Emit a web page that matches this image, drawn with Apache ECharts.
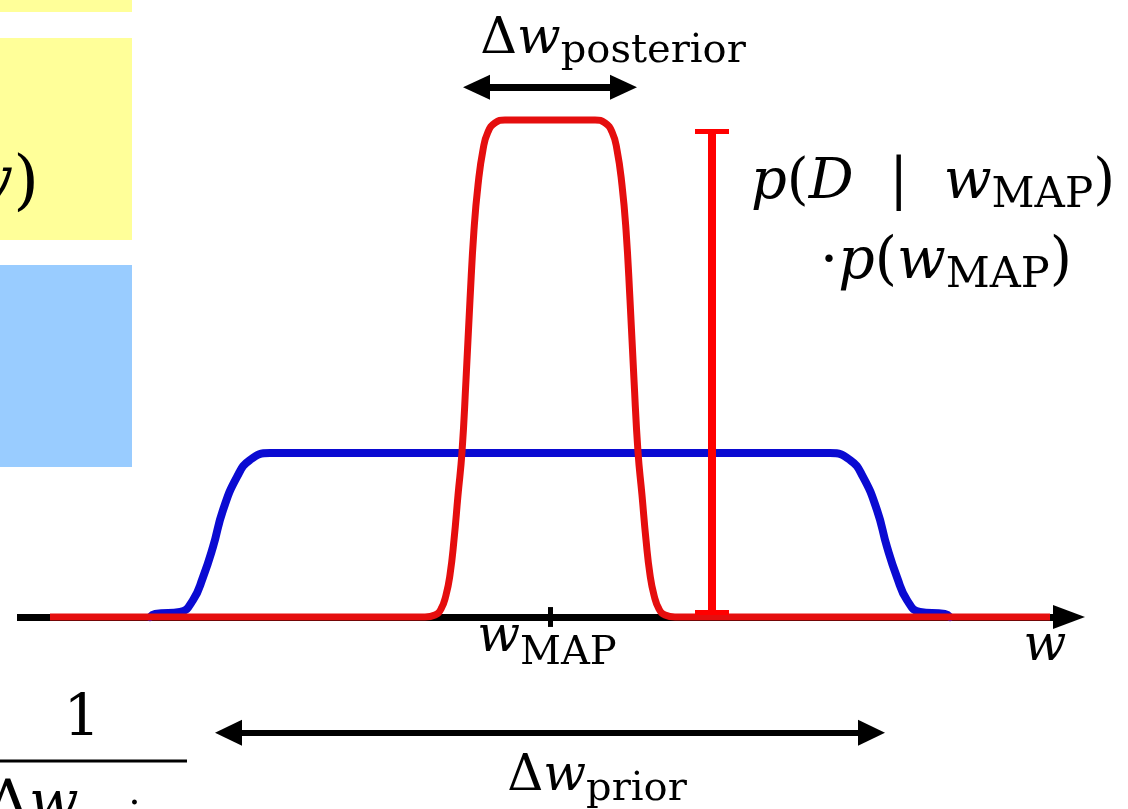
<!DOCTYPE html>
<html><head><meta charset="utf-8">
<script src="https://cdn.jsdelivr.net/npm/echarts@6/dist/echarts.min.js"></script>
<style>html,body{margin:0;padding:0;background:#fff}#c{width:1128px;height:809px}</style>
</head><body><div id="c"></div>
<script>
// ---- data (w in units of the w axis, p = density, posterior peak = 1) ----
const priorW = [-4.00,-3.95,-3.70,-3.57,-3.47,-3.37,-3.27,-3.13,-3.00,-2.80,2.80,3.00,3.13,3.27,3.37,3.47,3.57,3.70,3.95,4.00];
const priorP = [0,0.006,0.010,0.034,0.080,0.141,0.215,0.282,0.316,0.330,0.330,0.316,0.282,0.215,0.141,0.080,0.034,0.010,0.006,0];
const postW = [-5.00,-1.25,-1.15,-1.09,-1.04,-1.00,-0.96,-0.92,-0.88,-0.84,-0.80,-0.76,-0.72,-0.67,-0.62,-0.55,-0.45,0.45,0.55,0.62,0.67,0.72,0.76,0.80,0.84,0.88,0.92,0.96,1.00,1.04,1.09,1.15,1.25,5.00];
const postP = [0,0,0.004,0.016,0.044,0.085,0.155,0.245,0.332,0.477,0.638,0.779,0.869,0.940,0.976,0.994,1,1,0.994,0.976,0.940,0.869,0.779,0.638,0.477,0.332,0.245,0.155,0.085,0.044,0.016,0.004,0,0];
const axisRange = [-5.33, 5.35];
const wMAP = 0;
const posteriorSpan = [-0.87, 0.87];
const priorSpan = [-3.35, 3.35];
const errorBarW = 1.62;
const errorBarP = [0.010, 0.978];

// ---- rendering ----
const U = 0.01; // axis units per pixel (x)
const F = '"DejaVu Serif", "Liberation Serif", serif';
const cv = document.createElement('canvas').getContext('2d');
function fontStr(k, size) { return (k === 'i' ? 'italic ' : 'normal ') + 'normal ' + size + 'px ' + F; }
function baseOff(font) {
  cv.font = font;
  cv.textBaseline = 'alphabetic';
  const a1 = cv.measureText('H').actualBoundingBoxAscent;
  cv.textBaseline = 'middle';
  const a2 = cv.measureText('H').actualBoundingBoxAscent;
  cv.textBaseline = 'alphabetic';
  return a1 - a2;
}
// math-like label: parts = [[kind, text]], kind m = roman, i = italic, s = subscript
function label(x, base, align, parts, main, sub, drop) {
  const items = parts.map(([k, t]) => {
    const size = k === 's' ? sub : main;
    const font = fontStr(k, size);
    cv.font = font;
    return {k, t, font, w: cv.measureText(t).width};
  });
  const W = items.reduce((s, it) => s + it.w, 0);
  let cx = align === 'center' ? x - W / 2 : align === 'right' ? x - W : x;
  return items.map(it => {
    const b = it.k === 's' ? base + drop : base;
    const el = {type: 'text', x: cx, y: b - baseOff(it.font), z: 10,
      style: {text: it.t, font: it.font, fill: '#000', align: 'left', verticalAlign: 'middle'}};
    cx += it.w;
    return el;
  });
}
const ml = (pts, color, width, s0, s1, size) => {
  const a = {coord: pts[0], symbol: s0 || 'none', symbolSize: size || 10};
  const b = {coord: pts[1], symbol: s1 || 'none', symbolSize: size || 10};
  return [Object.assign(a, {lineStyle: {color: color, width: width, type: 'solid', cap: 'butt'}}), b];
};
const half = 13.5 * U;
const option = {
  animation: false,
  grid: {left: 0, right: 0, top: 0, bottom: 0},
  xAxis: {type: 'value', min: -5.5, max: 5.78, show: false},
  yAxis: {type: 'value', min: -0.3863, max: 1.2414, show: false},
  graphic: [
    {type: 'rect', shape: {x: 0, y: 0, width: 132, height: 12}, style: {fill: '#ffff99'}, z: 0},
    {type: 'rect', shape: {x: 0, y: 38, width: 132, height: 202}, style: {fill: '#ffff99'}, z: 0},
    {type: 'rect', shape: {x: 0, y: 265, width: 132, height: 202}, style: {fill: '#99ccff'}, z: 0},
    ...label(39, 202, 'right', [['i', 'w'], ['m', ')']], 66, 44, 12),
    ...label(613, 53, 'center', [['m', 'Δ'], ['i', 'w'], ['s', 'posterior']], 51, 40, 9),
    ...label(933, 198, 'center', [['i', 'p'], ['m', '('], ['i', 'D'], ['m', '  |  '], ['i', 'w'], ['s', 'MAP'], ['m', ')']], 56, 42, 9),
    ...label(946, 278, 'center', [['m', '·'], ['i', 'p'], ['m', '('], ['i', 'w'], ['s', 'MAP'], ['m', ')']], 57, 43, 9),
    ...label(547, 651, 'center', [['i', 'w'], ['s', 'MAP']], 50, 40, 13),
    ...label(1045, 660, 'center', [['i', 'w']], 50, 40, 10),
    ...label(597, 790, 'center', [['m', 'Δ'], ['i', 'w'], ['s', 'prior']], 50, 40, 10),
    ...label(82, 735, 'center', [['m', '1']], 58, 40, 10),
    {type: 'rect', shape: {x: 0, y: 759.5, width: 187, height: 3}, style: {fill: '#000'}, z: 10},
    ...label(-13, 821, 'left', [['m', 'Δ'], ['i', 'w'], ['s', 'prior']], 58, 44, 12)
  ],
  series: [
    {
      name: 'axis', type: 'line', data: [], z: 1, silent: true,
      markLine: {
        silent: true, z: 1, animation: false, label: {show: false}, emphasis: {disabled: true},
        data: [
          ml([[axisRange[0], 0], [axisRange[1] - 16*U, 0]], '#000', 7, 'none', 'triangle', [24, 32]),
          ml([[wMAP, 0.020], [wMAP, -0.020]], '#000', 5)
        ]
      }
    },
    {
      name: 'prior', type: 'line', z: 2, silent: true, showSymbol: false, clip: false,
      smooth: 0.5,
      lineStyle: {color: '#0a0ad2', width: 8, cap: 'round', join: 'round'},
      data: priorW.map((w, i) => [w, priorP[i]])
    },
    {
      name: 'posterior', type: 'line', z: 3, silent: true, showSymbol: false, clip: false,
      smooth: 0.5,
      lineStyle: {color: '#e50e0e', width: 7, cap: 'butt', join: 'round'},
      data: postW.map((w, i) => [w, postP[i]]),
      markLine: {
        silent: true, z: 5, animation: false, label: {show: false}, emphasis: {disabled: true},
        data: [
          ml([[posteriorSpan[0] + half, 1.066], [posteriorSpan[1] - half, 1.066]], '#000', 7, 'triangle', 'triangle', [25, 27]),
          ml([[priorSpan[0] + half, -0.233], [priorSpan[1] - half, -0.233]], '#000', 6, 'triangle', 'triangle', [26, 27]),
          ml([[errorBarW, errorBarP[0]], [errorBarW, errorBarP[1]]], '#ff0000', 8),
          ml([[errorBarW - 0.17, errorBarP[0]], [errorBarW + 0.17, errorBarP[0]]], '#ff0000', 5),
          ml([[errorBarW - 0.17, errorBarP[1]], [errorBarW + 0.17, errorBarP[1]]], '#ff0000', 5)
        ]
      }
    }
  ]
};
const chart = echarts.init(document.getElementById('c'));
chart.setOption(option);
</script></body></html>
